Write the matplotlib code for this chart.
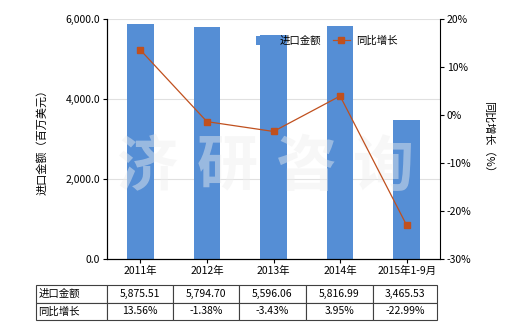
import numpy as np
import matplotlib
matplotlib.use('Agg')
import matplotlib.pyplot as plt

plt.rcParams['font.family'] = ['Noto Sans CJK SC', 'DejaVu Sans']

Categories = ['2011年', '2012年', '2013年', '2014年', '2015年1-9月']
ImportValue = [5875.51, 5794.70, 5596.06, 5816.99, 3465.53]
Growth = [13.56, -1.38, -3.43, 3.95, -22.99]
ValueLabels = ['5,875.51', '5,794.70', '5,596.06', '5,816.99', '3,465.53']
GrowthLabels = ['13.56%', '-1.38%', '-3.43%', '3.95%', '-22.99%']

BarColor = '#558ED5'
LineColor = '#C0501E'

fig = plt.figure(figsize=(5.2, 3.3), dpi=100)
ax1 = fig.add_axes([107/520, 1-259/330, 333/520, 240/330])
x = np.arange(len(Categories))

ax1.bar(x, ImportValue, width=0.4, color=BarColor, zorder=2, label='进口金额')
ax1.set_xlim(-0.5, len(Categories)-0.5)
ax1.set_ylim(0, 6000)
ax1.set_yticks([0, 2000, 4000, 6000])
ax1.set_yticklabels(['0.0', '2,000.0', '4,000.0', '6,000.0'], fontsize=7.5)
ax1.set_xticks(x)
ax1.set_xticklabels(Categories, fontsize=7.5)
ax1.grid(axis='y', color='#e0e0e0', linewidth=0.8, zorder=0)
ax1.spines['top'].set_visible(False)
ax1.spines['right'].set_visible(False)
ax1.tick_params(axis='both', length=3, width=0.8, pad=2)
ax1.set_ylabel('进口金额（百万美元）', fontsize=8, labelpad=13)

ax2 = ax1.twinx()
ax2.plot(x, Growth, color=LineColor, linewidth=0.9, marker='s', markersize=4.5, zorder=3, label='同比增长')
ax2.set_ylim(-30, 20)
ax2.set_yticks([-30, -20, -10, 0, 10, 20])
ax2.set_yticklabels(['-30%', '-20%', '-10%', '0%', '10%', '20%'], fontsize=7.5)
ax2.spines['top'].set_visible(False)
ax2.tick_params(axis='y', length=3, width=0.8, pad=2)
ax2.set_ylabel('同比增长（%）', fontsize=8, rotation=270, labelpad=16)

# watermark
for wx, ch in zip([0.12, 0.36, 0.6, 0.83], '济研咨询'):
    ax1.text(wx, 0.38, ch, transform=ax1.transAxes, fontsize=44, color='#eeeeee',
             alpha=0.45, ha='center', va='center', fontweight='bold', zorder=2.5)

h1, l1 = ax1.get_legend_handles_labels()
h2, l2 = ax2.get_legend_handles_labels()
ax2.legend(h1+h2, l1+l2, loc='upper left', bbox_to_anchor=(0.42, 0.97), ncol=2, frameon=False,
           fontsize=7.5, handlelength=1.6, handleheight=1.0, columnspacing=1.2, handletextpad=0.6)

# data table below the chart
cells = [['进口金额'] + ValueLabels, ['同比增长'] + GrowthLabels]
tbl = ax1.table(cellText=cells, cellLoc='center',
                colWidths=[71, 66, 66, 67, 67, 64],
                bbox=[(36-107)/333, (259-320)/240, 401/333, 35/240])
tbl.auto_set_font_size(False)
tbl.set_fontsize(7.5)
for (r, c), cell in tbl.get_celld().items():
    cell.set_edgecolor('#404040')
    cell.set_linewidth(0.8)
    if c == 0:
        cell._loc = 'left'
        cell.PAD = 0.03
        cell.get_text().set_ha('left')

fig.savefig('out.png', dpi=100)
